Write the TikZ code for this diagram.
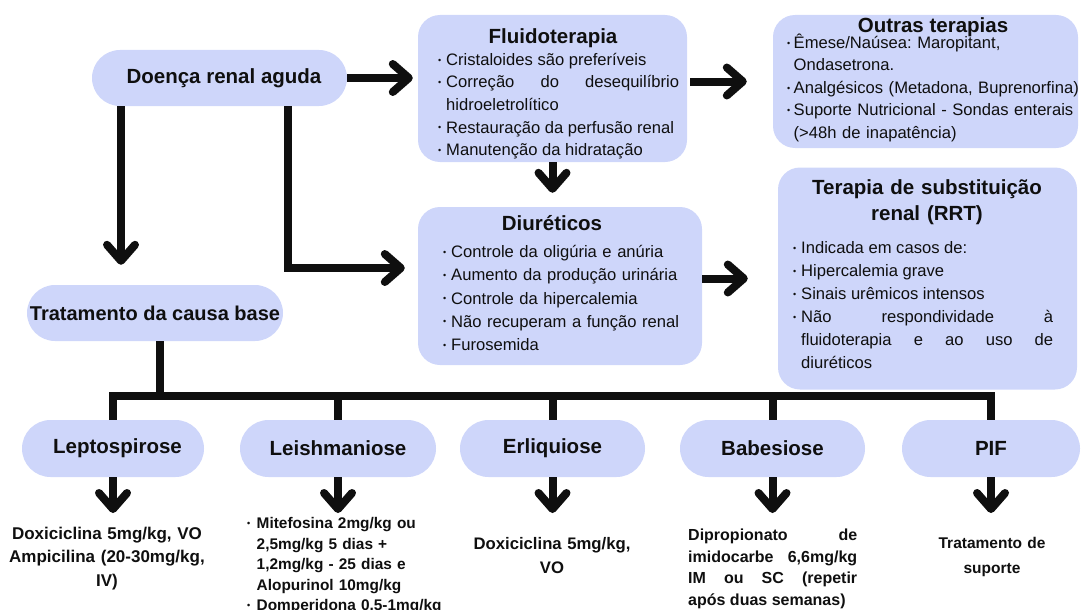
\documentclass[tikz,border=0pt]{standalone}
\usepackage{fontspec}
\setmainfont{Liberation Sans}
\usetikzlibrary{arrows.meta}

\definecolor{boxfill}{RGB}{206,214,250}
\definecolor{ink}{RGB}{15,15,15}

\hyphenpenalty=10000
\exhyphenpenalty=10000
\tolerance=9999
\frenchspacing

% small bullet with a hanging indent for list entries
\newcommand\bulletmark{\raisebox{2.4pt}{\fontsize{9}{9}\selectfont\textbullet}}
\newcommand\fitem[1]{\noindent\hangindent=#1\hangafter=1\makebox[#1][l]{\bulletmark}\ignorespaces}
\newcommand\litem[1]{\par\fitem{#1}}

\newcommand\titlefont{\bfseries\fontsize{20.5}{26}\selectfont}

\tikzset{
  panel/.style={fill=boxfill, rounded corners=22pt, inner sep=0pt},
  pill/.style={fill=boxfill, rounded corners=#1, inner sep=0pt, text=ink, font=\titlefont},
  heading/.style={inner sep=0pt, text=ink, font=\titlefont},
  listtext/.style={inner sep=0pt, text=ink, anchor=base west},
  note/.style={inner sep=0pt, text=ink},
  conn/.style={draw=ink, line width=8pt, line cap=butt,
    -{Straight Barb[length=16pt,width=28pt,round]}},
  bus/.style={draw=ink, line width=8pt, line cap=butt, line join=miter},
}

\begin{document}
\begin{tikzpicture}[x=1pt, y=-1pt]
\useasboundingbox (0,0) rectangle (1081,610);

% ---------- top part ----------
\node[pill=28pt, minimum width=255pt, minimum height=56pt] (acute) at (219.5,78)
  {\hspace*{9pt}Doença renal aguda};

\node[panel, minimum width=269pt, minimum height=147pt] (fluid) at (552.5,88.5) {};
\node[heading, anchor=base] (fluidT) at (553,44) {Fluidoterapia};
\node[listtext, text width=241pt, align=justify, font=\fontsize{16.6}{22.5}\selectfont] (fluidL) at (438,65.5)
  {\fitem{8pt}Cristaloides são preferíveis
   \litem{8pt}Correção do desequilíbrio\linebreak hidroeletrolítico
   \litem{8pt}Restauração da perfusão renal
   \litem{8pt}Manutenção da hidratação\par};

\node[panel, minimum width=305pt, minimum height=133pt] (other) at (925.5,81.5) {};
\node[heading, anchor=base] (otherT) at (933,33) {Outras terapias};
\node[listtext, text width=300pt, align=left, font=\fontsize{16.6}{22.5}\selectfont] (otherL) at (787,48.5)
  {\fitem{6.5pt}Êmese/Naúsea: Maropitant,\newline Ondasetrona.
   \litem{6.5pt}Analgésicos (Metadona, Buprenorfina)
   \litem{6.5pt}Suporte Nutricional - Sondas enterais\newline (>48h de inapatência)\par};

\node[panel, minimum width=284pt, minimum height=158pt] (diur) at (560,286) {};
\node[heading, anchor=base] (diurT) at (552,230) {Diuréticos};
\node[listtext, text width=255pt, align=left, font=\fontsize{16.6}{23.25}\selectfont] (diurL) at (443,257.5)
  {\fitem{8pt}Controle da oligúria e anúria
   \litem{8pt}Aumento da produção urinária
   \litem{8pt}Controle da hipercalemia
   \litem{8pt}Não recuperam a função renal
   \litem{8pt}Furosemida\par};

\node[panel, minimum width=299pt, minimum height=222pt] (rrt) at (927.5,278.5) {};
\node[heading, anchor=base, text width=290pt, align=center] (rrtT) at (927,194)
  {Terapia de substituição\\renal (RRT)};
\node[listtext, text width=260pt, align=justify, font=\fontsize{16.6}{23}\selectfont] (rrtL) at (793,253.5)
  {\fitem{8pt}Indicada em casos de:
   \litem{8pt}Hipercalemia grave
   \litem{8pt}Sinais urêmicos intensos
   \litem{8pt}Não respondividade à\linebreak fluidoterapia e ao uso de\linebreak diuréticos\par};

\node[pill=28pt, minimum width=256pt, minimum height=56pt,
      font=\bfseries\fontsize{20}{24}\selectfont] (cause) at (155,313) {Tratamento da causa base};

% ---------- connectors of the top part ----------
\draw[conn, shorten >=5pt] (acute.east) -- (acute.east -| fluid.west);
\draw[conn, shorten <=3pt, shorten >=26pt] (fluid.east |- other.west) -- (other.west);
\draw[conn, shorten >=14pt] (fluid.south) -- (fluid.south |- diur.north);
\draw[conn, shorten >=30pt] (diur.east |- rrt.west) -- (rrt.west);
\draw[conn, shorten >=20pt] ([xshift=-98.5pt]acute.south) -- ([xshift=-98.5pt]acute.south |- cause.north);
\draw[conn, shorten >=13pt] ([xshift=68.5pt]acute.south) |- ([yshift=18pt]diur.west);

% ---------- causes ----------
\node[pill=28.5pt, minimum width=182pt, minimum height=57pt] (lepto) at (113,448.5) {\hspace*{9pt}Leptospirose};
\node[pill=28.5pt, minimum width=196pt, minimum height=57pt] (leish) at (338,448.5) {Leishmaniose};
\node[pill=28.5pt, minimum width=185pt, minimum height=57pt] (erli)  at (552.5,448.5) {Erliquiose};
\node[pill=28.5pt, minimum width=185pt, minimum height=57pt] (babe)  at (772.5,448.5) {Babesiose};
\node[pill=28.5pt, minimum width=178pt, minimum height=57pt] (pif)   at (991,448.5) {PIF};

\coordinate (busline) at (0,396);
\coordinate (tipline) at (0,513);

\draw[bus] ([xshift=5pt]cause.south) -- ([xshift=5pt]cause.south |- busline);
\draw[bus] (lepto.north) -- (lepto.north |- busline) -- (pif.north |- busline) -- (pif.north);
\foreach \n in {leish,erli,babe}
  \draw[bus] (\n.north) -- (\n.north |- busline);

\foreach \n in {lepto,leish,erli,babe,pif}
  \draw[conn] (\n.south) -- (\n.south |- tipline);

% ---------- treatments ----------
\node[note, anchor=base, text width=210pt, align=center, font=\bfseries\fontsize{17}{23.5}\selectfont] (leptoTx) at (107,539)
  {Doxiciclina 5mg/kg, VO\\Ampicilina (20-30mg/kg,\\IV)};

\node[note, anchor=base west, text width=200pt, align=left, font=\bfseries\fontsize{15.4}{20.5}\selectfont] (leishTx) at (247,528.5)
  {\fitem{9.5pt}Mitefosina 2mg/kg ou\newline 2,5mg/kg 5 dias +\newline 1,2mg/kg - 25 dias e\newline Alopurinol 10mg/kg
   \litem{9.5pt}Domperidona 0,5-1mg/kg\par};

\node[note, anchor=base, text width=200pt, align=center, font=\bfseries\fontsize{16.7}{24}\selectfont] (erliTx) at (552,549)
  {Doxiciclina 5mg/kg,\\VO};

\node[note, anchor=base west, text width=169pt, align=justify, font=\bfseries\fontsize{16}{21.7}\selectfont] (babeTx) at (688,540.5)
  {\noindent Dipropionato de\linebreak imidocarbe 6,6mg/kg\linebreak IM ou SC (repetir\linebreak após duas semanas)\par};

\node[note, anchor=base, text width=180pt, align=center, font=\bfseries\fontsize{15.5}{25}\selectfont] (pifTx) at (992,548.5)
  {Tratamento de\\suporte};
\end{tikzpicture}
\end{document}
